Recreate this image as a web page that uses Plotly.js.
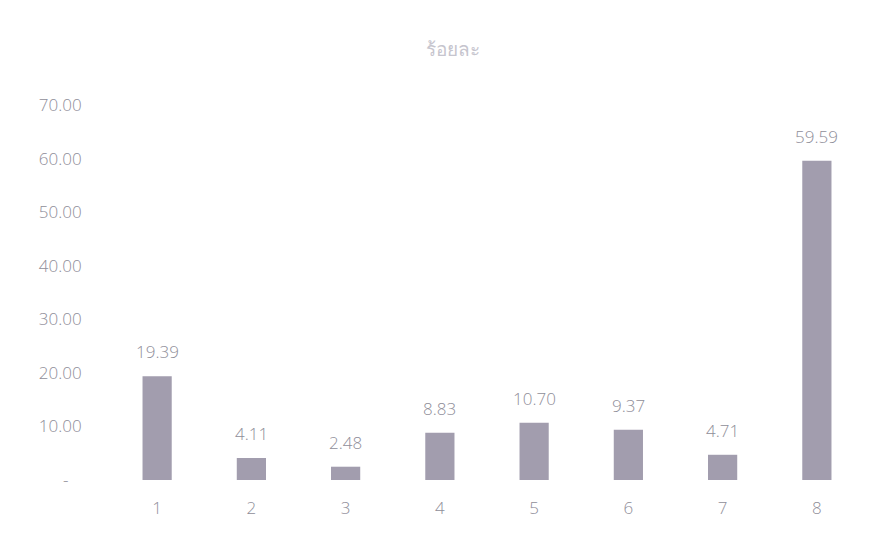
<!DOCTYPE html>
<html>
<head>
<meta charset="utf-8">
<script src="https://cdn.plot.ly/plotly-3.0.1.min.js"></script>
<style>html,body{margin:0;padding:0;background:#fff;}#chart{width:877px;height:545px;}</style>
</head>
<body>
<div id="chart"></div>
<script>
var categories = ["1", "2", "3", "4", "5", "6", "7", "8"];
var values = [19.39, 4.11, 2.48, 8.83, 10.70, 9.37, 4.71, 59.59];
var yTickVals = [0, 10, 20, 30, 40, 50, 60, 70];
var yTickText = ["-   ", "10.00", "20.00", "30.00", "40.00", "50.00", "60.00", "70.00"];
var titleText = "ร้อยละ";

var fontFam = "'Open Sans', Lato, 'Noto Sans', sans-serif";
var textColor = "#8f8e99";

var annotations = categories.map(function (c, i) {
  return {
    x: categories.indexOf(c), y: values[i], xref: "x", yref: "y",
    text: values[i].toFixed(2), showarrow: false,
    yanchor: "bottom", yshift: 11,
    font: {family: fontFam, size: 17, weight: 300, color: textColor}
  };
});

var trace = {
  type: "bar",
  x: categories,
  y: values,
  marker: {color: "#a29dae", line: {width: 0}},
  hoverinfo: "none"
};

var layout = {
  width: 877, height: 545,
  paper_bgcolor: "#ffffff",
  plot_bgcolor: "#ffffff",
  margin: {l: 110, r: 13, t: 105, b: 65},
  bargap: 0.69,
  showlegend: false,
  title: {
    text: titleText,
    x: 0.516, xanchor: "center",
    y: 0.91, yanchor: "middle", yref: "container",
    font: {family: "'Noto Sans', sans-serif", size: 19, weight: 400, color: "#c6c5ce"}
  },
  xaxis: {
    type: "category",
    range: [-0.5, 7.5],
    showgrid: false, zeroline: false, showline: false,
    ticks: "outside", ticklen: 13, tickcolor: "rgba(0,0,0,0)",
    tickfont: {family: fontFam, size: 17, weight: 300, color: textColor}
  },
  yaxis: {
    range: [0, 70],
    tickvals: yTickVals, ticktext: yTickText,
    showgrid: false, zeroline: false, showline: false,
    ticks: "outside", ticklen: 24, tickcolor: "rgba(0,0,0,0)",
    tickfont: {family: fontFam, size: 17, weight: 300, color: textColor}
  },
  annotations: annotations
};

Plotly.newPlot("chart", [trace], layout, {displayModeBar: false, staticPlot: true});
</script>
</body>
</html>
